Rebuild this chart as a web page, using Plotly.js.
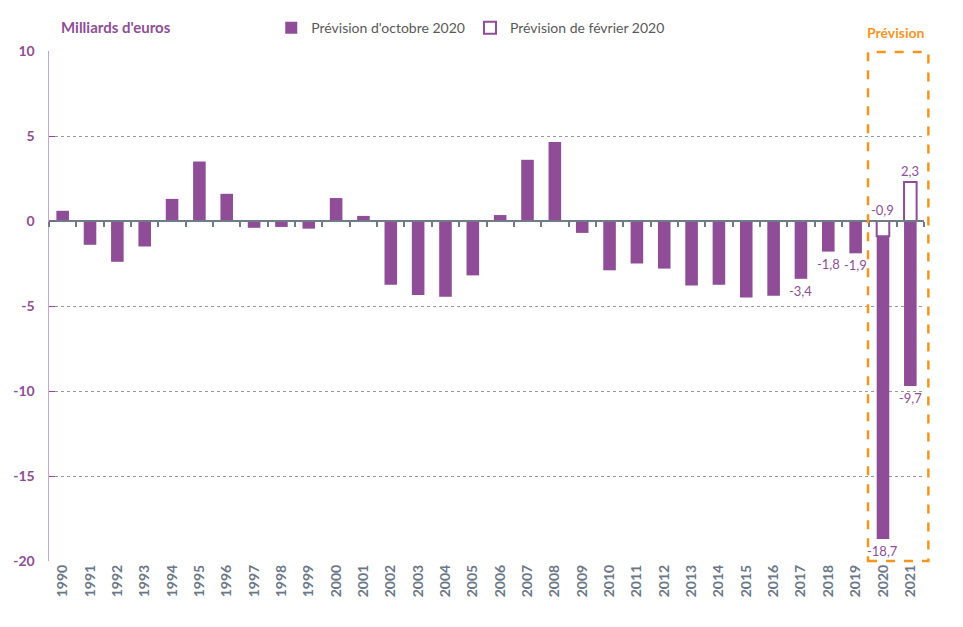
<!DOCTYPE html>
<html>
<head>
<meta charset="utf-8">
<script src="https://cdn.plot.ly/plotly-3.0.1.min.js"></script>
<style>html,body{margin:0;padding:0;background:#fff;}#chart{width:963px;height:627px;}</style>
</head>
<body>
<div id="chart"></div>
<script>
const years = [1990,1991,1992,1993,1994,1995,1996,1997,1998,1999,2000,2001,2002,2003,2004,2005,2006,2007,2008,2009,2010,2011,2012,2013,2014,2015,2016,2017,2018,2019,2020,2021];
const octobre2020 = [0.6,-1.4,-2.4,-1.5,1.3,3.5,1.6,-0.4,-0.35,-0.45,1.35,0.3,-3.75,-4.35,-4.45,-3.2,0.35,3.6,4.65,-0.7,-2.9,-2.5,-2.8,-3.8,-3.75,-4.5,-4.4,-3.4,-1.8,-1.9,-18.7,-9.7];
const fevrier2020 = [null,null,null,null,null,null,null,null,null,null,null,null,null,null,null,null,null,null,null,null,null,null,null,null,null,null,null,null,null,null,-0.9,2.3];
const labelledYears = [2017,2018,2019,2020,2021];
const yTickVals = [10,5,0,-5,-10,-15,-20];
const yTickText = ['10','5','0','-5','-10','-15','-20'];
const seriesNames = ["Prévision d'octobre 2020", "Prévision de février 2020"];

const PURPLE = '#8E4D96';
const ORANGE = '#F7941D';
const GREY = '#6F7C87';
const FONT = 'Lato, "Open Sans", sans-serif';
const fmt = v => v.toFixed(1).replace('.', ',');

const traces = [
  {type:'bar', x:years, y:octobre2020, name:seriesNames[0], width:0.46,
   marker:{color:PURPLE, line:{width:0}}, hoverinfo:'x+y'},
  {type:'bar', x:years, y:fevrier2020, name:seriesNames[1], width:0.46,
   marker:{color:'#ffffff', line:{color:PURPLE, width:2}}, hoverinfo:'x+y'},
  // carrier trace so the zero-anchored axis (ticks between years) is drawn
  {type:'scatter', mode:'none', x:years, y:years.map(() => 0), xaxis:'x2', yaxis:'y',
   showlegend:false, hoverinfo:'skip'}
];

const annotations = [];
labelledYears.forEach(yr => {
  const i = years.indexOf(yr);
  const v = octobre2020[i];
  annotations.push({x:yr, y:v, xref:'x', yref:'y', text:fmt(v), showarrow:false,
    yshift: v < 0 ? -12 : 12, font:{family:FONT, size:13, color:PURPLE}});
  const f = fevrier2020[i];
  if (f !== null) {
    annotations.push({x:yr, y:Math.max(f,0), xref:'x', yref:'y', text:fmt(f), showarrow:false,
      yshift: 11, font:{family:FONT, size:13, color:PURPLE}});
  }
});
annotations.push({xref:'paper', yref:'paper', x:0.011, y:1.047, xanchor:'left', yanchor:'middle',
  text:"<b>Milliards d'euros</b>", showarrow:false, font:{family:FONT, size:15, color:PURPLE}});
annotations.push({xref:'paper', yref:'paper', x:0.968, y:1.037, xanchor:'center', yanchor:'middle',
  text:"<b>Prévision</b>", showarrow:false, font:{family:FONT, size:14, color:ORANGE}});

const layout = {
  width:963, height:627,
  margin:{l:49, r:39, t:51, b:66},
  paper_bgcolor:'#fff', plot_bgcolor:'#fff',
  barmode:'overlay',
  separators:',.',
  showlegend:true,
  legend:{orientation:'h', x:0.482, xanchor:'center', y:1.045, yanchor:'middle',
    font:{family:FONT, size:14, color:'#595959'}, itemwidth:30, tracegroupgap:0},
  xaxis:{range:[1989.5,2021.5], tickmode:'array', tickvals:years, ticktext:years.map(y => '<b>' + y + '</b>'),
    tickangle:-90, showgrid:false, zeroline:false, showline:false, ticks:'',
    tickfont:{family:FONT, size:14, color:'#6B7787'}, fixedrange:true},
  xaxis2:{overlaying:'x', anchor:'free', position:2/3, range:[1989.5,2021.5],
    tickmode:'linear', tick0:1990.5, dtick:1, ticks:'outside', ticklen:5, tickwidth:2,
    tickcolor:GREY, showticklabels:false, showline:true, linecolor:GREY, linewidth:2,
    showgrid:false, zeroline:false},
  yaxis:{range:[-20,10], tickmode:'array', tickvals:yTickVals, ticktext:yTickText.map(t => '<b>' + t + '</b>'),
    showgrid:true, gridcolor:'#9a9a9a', griddash:'dot', gridwidth:1,
    zeroline:true, zerolinecolor:GREY, zerolinewidth:2,
    showline:true, linecolor:'#C9A3D0', linewidth:1.5, ticks:'inside', ticklen:6,
    tickcolor:PURPLE, ticklabelstandoff:10,
    tickfont:{family:FONT, size:14, color:PURPLE}},
  shapes:[{type:'rect', xref:'paper', yref:'paper', x0:0.936, x1:1.005, y0:0, y1:0.998,
    line:{color:ORANGE, width:2.5, dash:'dash'}, fillcolor:'rgba(0,0,0,0)', layer:'above'}],
  annotations:annotations
};

Plotly.newPlot('chart', traces, layout, {displayModeBar:false, staticPlot:true});
</script>
</body>
</html>
